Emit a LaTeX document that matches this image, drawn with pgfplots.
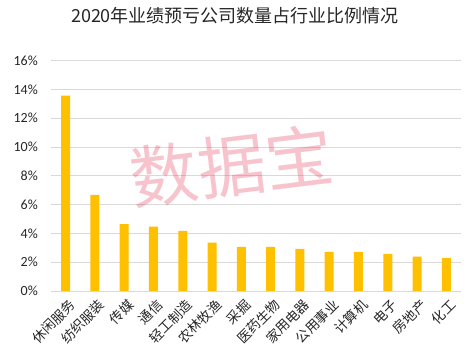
\documentclass[border=0pt]{standalone}
\usepackage{pgfplots}
\pgfplotsset{compat=1.18}
\usepackage{fontspec}
\setmainfont{Carlito}
\newfontfamily\cjk{Noto Sans CJK SC}
\definecolor{barc}{RGB}{255,192,0}
\definecolor{gridc}{RGB}{217,217,217}
\definecolor{wm}{RGB}{230,60,90}
\begin{document}
\begin{tikzpicture}
\useasboundingbox (0pt,0pt) rectangle (464pt,352pt);
\node[font=\cjk\fontsize{18}{18}\selectfont, text=black!85] at (235pt,336pt) {2020年业绩预亏公司数量占行业比例情况};
\begin{axis}[
  at={(51pt,61pt)}, anchor=south west,
  width=410pt, height=230.4pt, scale only axis,
  xmin=-0.5, xmax=13.5, ymin=0, ymax=16,
  ytick={0,2,...,16},
  yticklabels={0\%,2\%,4\%,6\%,8\%,10\%,12\%,14\%,16\%},
  xtick=data,
  xticklabels={休闲服务,纺织服装,传媒,通信,轻工制造,农林牧渔,采掘,医药生物,家用电器,公用事业,计算机,电子,房地产,化工},
  major tick length=0pt,
  axis lines*=left,
  axis line style={draw=none},
  ymajorgrids, grid style={gridc, line width=0.8pt},
  yticklabel style={anchor=east, inner sep=0pt, xshift=-13pt, font=\fontsize{14}{14}\selectfont, text=black!85},
  xticklabel style={rotate=45, anchor=east, inner sep=0pt, xshift=-3pt, yshift=-13pt, font=\cjk\fontsize{13.5}{13.5}\selectfont, text=black!85},
  clip=false,
]
\addplot[ybar, bar width=9pt, fill=barc, draw=none] coordinates {
(0,13.56) (1,6.67) (2,4.65) (3,4.47) (4,4.17) (5,3.36) (6,3.06) (7,3.06) (8,2.92) (9,2.71) (10,2.71) (11,2.57) (12,2.38) (13,2.29)};
\end{axis}
\node[font=\cjk\fontsize{68}{68}\selectfont, text=wm, text opacity=0.3, rotate=7] at (232pt,186pt) {数据宝};
\end{tikzpicture}
\end{document}
